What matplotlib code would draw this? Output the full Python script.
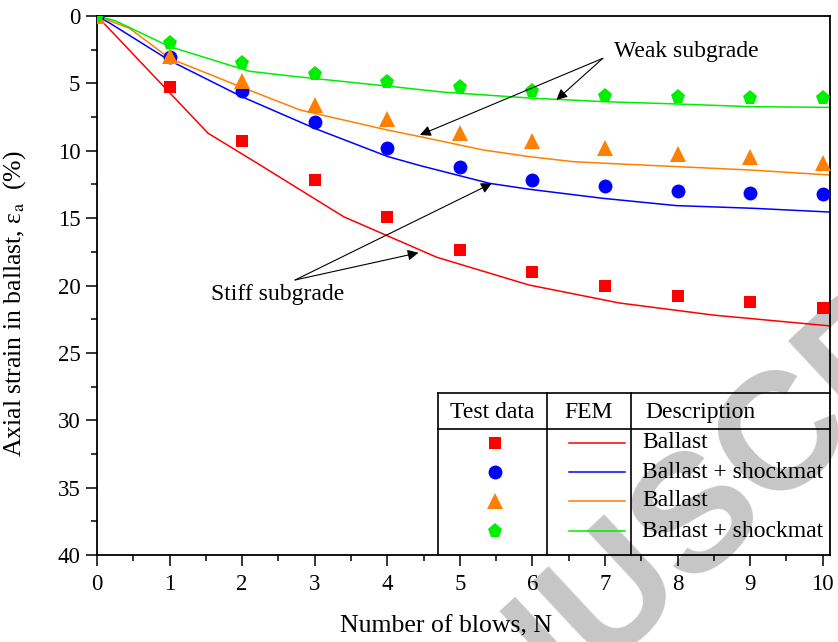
import matplotlib
matplotlib.use("Agg")
import matplotlib.pyplot as plt
from matplotlib.lines import Line2D

plt.rcParams['font.family'] = ['Liberation Serif', 'DejaVu Serif']
plt.rcParams['mathtext.fontset'] = 'stix'

# Test data (number of blows vs axial strain, %)
blows = [0, 1, 2, 3, 4, 5, 6, 7, 8, 9, 10]
test_ballast_stiff = [0, 5.25, 9.28, 12.2, 14.9, 17.35, 19.0, 20.05, 20.8, 21.25, 21.7]
test_shockmat_stiff = [0, 3.07, 5.54, 7.84, 9.77, 11.18, 12.15, 12.59, 12.96, 13.11, 13.24]
test_ballast_weak = [0, 3.0, 4.82, 6.6, 7.67, 8.7, 9.3, 9.82, 10.24, 10.49, 10.88]
test_shockmat_weak = [0, 2.03, 3.46, 4.3, 4.87, 5.29, 5.57, 5.94, 6.03, 6.11, 6.06]

# FEM predictions
fem_ballast_stiff_n = [0, 1.53, 2.2, 3.4, 4.68, 5.95, 7.2, 8.5, 10.1]
fem_ballast_stiff = [0, 8.7, 10.9, 14.9, 17.9, 19.96, 21.3, 22.2, 23.0]
fem_shockmat_stiff_n = [0, 0.18, 1, 2, 3, 4, 4.45, 5.41, 5.96, 6.97, 7.98, 9.04, 10.1]
fem_shockmat_stiff = [0, 0.54, 3.3, 6.0, 8.34, 10.42, 11.1, 12.42, 12.86, 13.53, 14.07, 14.27, 14.55]
fem_ballast_weak_n = [0, 0.45, 1, 2, 2.8, 4, 4.45, 5.32, 5.96, 6.56, 7, 8, 9, 10.1]
fem_ballast_weak = [0, 0.92, 3.14, 5.3, 6.98, 8.46, 8.95, 9.94, 10.44, 10.81, 10.93, 11.18, 11.43, 11.8]
fem_shockmat_weak_n = [0, 0.25, 1, 2.1, 2.66, 4, 4.77, 6, 7, 8, 9, 10.1]
fem_shockmat_weak = [0, 0.35, 2.27, 4.1, 4.45, 5.2, 5.65, 6.1, 6.36, 6.53, 6.73, 6.78]

descriptions = ['Ballast', 'Ballast + shockmat', 'Ballast', 'Ballast + shockmat']

series = [
    (test_ballast_stiff, fem_ballast_stiff_n, fem_ballast_stiff, '#ff0000', 's', 8.5),
    (test_shockmat_stiff, fem_shockmat_stiff_n, fem_shockmat_stiff, '#0000ff', 'o', 10),
    (test_ballast_weak, fem_ballast_weak_n, fem_ballast_weak, '#ff8000', '^', 11),
    (test_shockmat_weak, fem_shockmat_weak_n, fem_shockmat_weak, '#00ee00', 'p', 11),
]

fig = plt.figure(figsize=(8.38, 6.42), dpi=100)
ax = fig.add_axes([97 / 838, 1 - 555 / 642, 733 / 838, 539 / 642])
ax.set_facecolor('none')

# FEM curves underneath, test points on top
for _, fx, fy, color, _, _ in series:
    ax.plot(fx, fy, color=color, lw=1.1, zorder=2)
for ty, _, _, color, marker, ms in series:
    ax.plot(blows, ty, linestyle='none', marker=marker, ms=ms, color=color,
            markeredgewidth=0, zorder=3)

ax.set_xlim(0, 10.1)
ax.set_ylim(40, 0)
ax.set_xticks(range(0, 11))
ax.set_xticks([i + 0.5 for i in range(10)], minor=True)
ax.set_yticks(range(0, 41, 5))
ax.set_yticks([i + 2.5 for i in range(0, 40, 5)], minor=True)
ax.tick_params(which='major', direction='out', length=8, width=1.1, labelsize=16.5)
ax.tick_params(which='minor', direction='out', length=4, width=1.1)
ax.tick_params(axis='x', pad=6)
ax.tick_params(axis='y', pad=4)
for sp in ax.spines.values():
    sp.set_linewidth(1.3)

ax.set_xlabel('Number of blows, N', fontsize=18.5)
ax.xaxis.set_label_coords(0.4755, -0.113)
ax.set_ylabel(r'Axial strain in ballast, ε$_{\rm a}$  (%)', fontsize=18.5)
ax.yaxis.set_label_coords(-0.094, 0.466)

# Annotation arrows
arrow_kw = dict(arrowstyle='-|>', color='black', lw=0.8, mutation_scale=16,
                shrinkA=0, shrinkB=0)
ax.text(8.12, 2.67, 'Weak subgrade', fontsize=17, ha='center', va='center')
ax.annotate('', xy=(4.45, 8.83), xytext=(6.97, 3.14), arrowprops=arrow_kw)
ax.annotate('', xy=(6.33, 6.23), xytext=(6.97, 3.14), arrowprops=arrow_kw)
ax.text(2.49, 20.7, 'Stiff subgrade', fontsize=17, ha='center', va='center')
ax.annotate('', xy=(5.44, 12.42), xytext=(2.73, 19.59), arrowprops=arrow_kw)
ax.annotate('', xy=(4.43, 17.57), xytext=(2.73, 19.59), arrowprops=arrow_kw)

# Table-style legend in the lower right corner
tr = ax.transAxes
box_l, col1, col2, box_r = 0.4648, 0.6135, 0.7289, 1.0
box_t, head_b = 0.3011, 0.2332
line_kw = dict(color='black', lw=1.2, transform=tr, clip_on=False, zorder=4)
ax.add_line(Line2D([box_l, box_r], [box_t, box_t], **line_kw))
ax.add_line(Line2D([box_l, box_r], [head_b, head_b], **line_kw))
for xc in (box_l, col1, col2):
    ax.add_line(Line2D([xc, xc], [0, box_t], **line_kw))

head_y = 0.2653
ax.text((box_l + col1) / 2, head_y, 'Test data', fontsize=17, ha='center', va='center', transform=tr)
ax.text((col1 + col2) / 2, head_y, 'FEM', fontsize=17, ha='center', va='center', transform=tr)
ax.text(0.7476, head_y, 'Description', fontsize=17, ha='left', va='center', transform=tr)

row_y = [0.2083, 0.1534, 0.1002, 0.0445]
for (ty, _, _, color, marker, ms), desc, ry in zip(series, descriptions, row_y):
    ax.add_line(Line2D([0.543], [ry], marker=marker, ms=ms, color=color,
                       markeredgewidth=0, transform=tr, zorder=4))
    ax.add_line(Line2D([0.6443, 0.7203], [ry, ry], color=color, lw=1.1,
                       transform=tr, zorder=4))
    ax.text(0.744, ry, desc, fontsize=17, ha='left', va='center', transform=tr)

# Diagonal watermark behind the plot
fig.text(0.835, 0.201, 'MANUSCRIPT', fontsize=120, fontweight='bold',
         family='Liberation Sans', color='#c6c6c6', rotation=43,
         ha='center', va='center', rotation_mode='anchor', zorder=-1)

fig.savefig('out.png', dpi=100)
